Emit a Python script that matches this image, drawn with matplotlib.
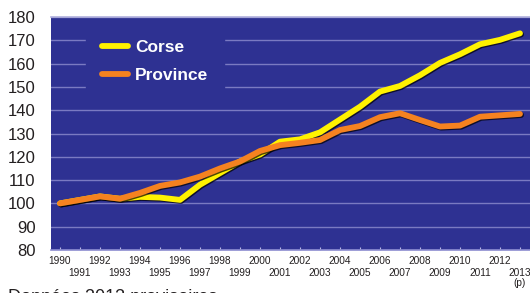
import matplotlib
matplotlib.use("Agg")
import matplotlib.pyplot as plt
import matplotlib.patheffects as pe

years = list(range(1990, 2014))
corse = [100, 101.5, 103, 102, 102.8, 102.5, 101.5, 108, 113, 118, 121, 126.5, 127.5,
         130.5, 136, 141.5, 148, 150.4, 155, 160.3, 164, 168.3, 170.2, 173]
province = [100, 101.5, 103, 102, 104.5, 107.5, 109, 111.5, 115, 118, 122.5, 125, 126,
            127.2, 131.5, 133.2, 137, 138.7, 135.8, 133, 133.4, 137.2, 137.8, 138.4]
yticks = [80, 90, 100, 110, 120, 130, 140, 150, 160, 170, 180]
even_years = [y for y in years if y % 2 == 0]
odd_years = [y for y in years if y % 2 == 1]
even_labels = [str(y) for y in even_years]
odd_labels = [str(y) for y in odd_years]
odd_labels[-1] = "2013\n(p)"
series_names = ["Corse", "Province"]
note = "Données 2013 provisoires"

BG = "#2E3192"
GRID = "#7A7AC2"
TXT = "#231F20"

plt.rcParams["font.family"] = ["Liberation Sans", "DejaVu Sans"]

fig = plt.figure(figsize=(5.30, 2.93), dpi=100)
ax = fig.add_axes([51 / 530, 1 - 250 / 293, 479 / 530, 233 / 293])
ax.set_facecolor(BG)

shadow = [pe.SimpleLineShadow(offset=(0.8, -0.8), shadow_color="black", alpha=0.7), pe.Normal()]
ax.plot(years, corse, color="#FFF200", lw=4.2, solid_capstyle="round", solid_joinstyle="round",
        label=series_names[0], zorder=3, path_effects=shadow)
ax.plot(years, province, color="#F58220", lw=4.2, solid_capstyle="round", solid_joinstyle="round",
        label=series_names[1], zorder=4, path_effects=shadow)

ax.set_xlim(1989.55, 2013.5)
ax.set_ylim(80, 180)
ax.set_yticks(yticks)
ax.set_yticklabels([str(v) for v in yticks])
ax.tick_params(axis="y", which="both", length=0, pad=11, labelsize=12, labelcolor=TXT)

ax.set_xticks(even_years)
ax.set_xticklabels(even_labels)
ax.set_xticks(odd_years, minor=True)
ax.set_xticklabels(odd_labels, minor=True, linespacing=0.95)
ax.tick_params(axis="x", which="both", direction="in", length=2.5, width=0.8, color="#B8B8E0",
               labelsize=7.3, labelcolor=TXT)
ax.tick_params(axis="x", which="major", pad=4.5)
ax.tick_params(axis="x", which="minor", pad=13)
for lbl in ax.get_xticklabels(minor=True):
    lbl.set_verticalalignment("top")

ax.grid(axis="y", which="major", color=GRID, lw=1.0, zorder=1)
ax.set_axisbelow(True)
for s in ["left", "right"]:
    ax.spines[s].set_visible(False)
ax.spines["top"].set_color("#B0B0DD")
ax.spines["top"].set_linewidth(1.2)
ax.spines["bottom"].set_color("#8C8CD0")
ax.spines["bottom"].set_linewidth(1.2)

leg = ax.legend(loc="upper left", bbox_to_anchor=(35 / 479, 1 - 7.5 / 233), frameon=True,
                facecolor=BG, edgecolor=BG, framealpha=1, fancybox=False,
                handlelength=1.5, handletextpad=0.42, labelspacing=0.7, borderpad=0.9,
                borderaxespad=0.0, prop={"weight": "bold", "size": 12.5})
for t in leg.get_texts():
    t.set_color("white")
for h in leg.legend_handles:
    h.set_path_effects([])
    h.set_linewidth(4.2)

fig.text(8 / 530, 1 - 288.5 / 293, note, fontsize=13, color=TXT, va="top", ha="left")

fig.savefig("out.png", dpi=100)
